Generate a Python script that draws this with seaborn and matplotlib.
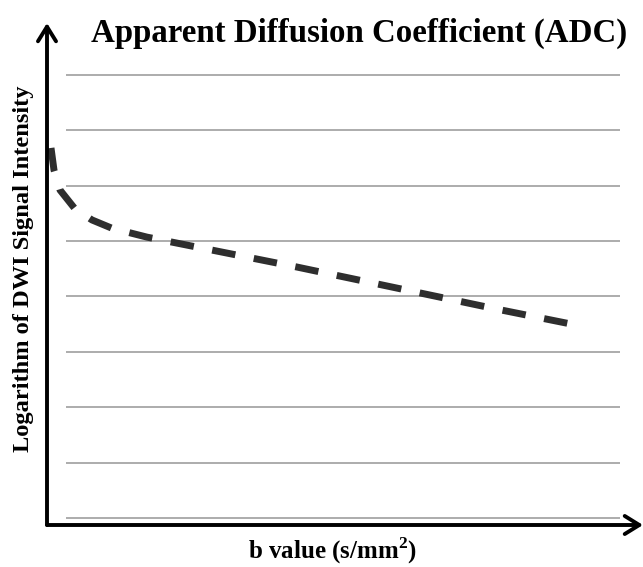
import matplotlib
matplotlib.use("Agg")
import matplotlib.pyplot as plt
import seaborn as sns
import pandas as pd

# Data (arbitrary units)
b_values = [8, 14, 26, 56, 90, 130, 200, 300, 500, 700, 900, 1060]
log_signal = [6.68, 6.28, 5.92, 5.58, 5.38, 5.23, 5.07, 4.89, 4.53, 4.15, 3.77, 3.48]
grid_levels = [0, 1, 2, 3, 4, 5, 6, 7, 8]

title_text = "Apparent Diffusion Coefficient (ADC)"
xlabel_text = "b value (s/mm$^\\mathbf{2}$)"
ylabel_text = "Logarithm of DWI Signal Intensity"

sns.set_style("white")
plt.rcParams['font.family'] = ['Liberation Serif', 'DejaVu Serif']
plt.rcParams['mathtext.fontset'] = 'custom'
plt.rcParams['mathtext.rm'] = 'Liberation Serif'
plt.rcParams['mathtext.bf'] = 'Liberation Serif:bold'
plt.rcParams['text.color'] = 'black'

df = pd.DataFrame({"b": b_values, "logS": log_signal})

fig = plt.figure(figsize=(6.43, 5.67), dpi=100)
ax = fig.add_axes([47 / 643, 42 / 567, 596 / 643, 502 / 567])

ax.set_xlim(0, 1192)
ax.set_ylim(-0.126, 8.935)

# horizontal grid lines
ax.hlines(grid_levels, 38, 1146, color="#a6a6a6", linewidth=1.3, zorder=1)

sns.lineplot(data=df, x="b", y="logS", ax=ax, color="#2e2e2e", linewidth=5,
             dashes=False, zorder=3)
line = ax.lines[-1]
line.set_dashes([3.4, 2.7])
line.set_dash_capstyle("butt")

for s in ax.spines.values():
    s.set_visible(False)
ax.set_xticks([])
ax.set_yticks([])
ax.set_xlabel("")
ax.set_ylabel("")

# axis arrows
arrow_kw = dict(arrowstyle="->,head_length=1.05,head_width=0.65", lw=2.8, color="black",
                shrinkA=0, shrinkB=0)
ax.annotate("", xy=(0, 1.0), xytext=(0, 0), xycoords="axes fraction",
            textcoords="axes fraction", arrowprops=arrow_kw, annotation_clip=False)
ax.annotate("", xy=(1.0, 0), xytext=(0, 0), xycoords="axes fraction",
            textcoords="axes fraction", arrowprops=arrow_kw, annotation_clip=False)

fig.text(359 / 643, 1 - 33 / 567, title_text, ha="center", va="center",
         fontsize=23.7, fontweight="bold", color="black")
fig.text(24 / 643, 1 - 269 / 567, ylabel_text, ha="center", va="center",
         rotation=90, fontsize=17.6, fontweight="bold", color="black")
fig.text(332 / 643, 1 - 551 / 567, xlabel_text, ha="center", va="center",
         fontsize=18, fontweight="bold", color="black")

fig.savefig("out.png", dpi=100)
